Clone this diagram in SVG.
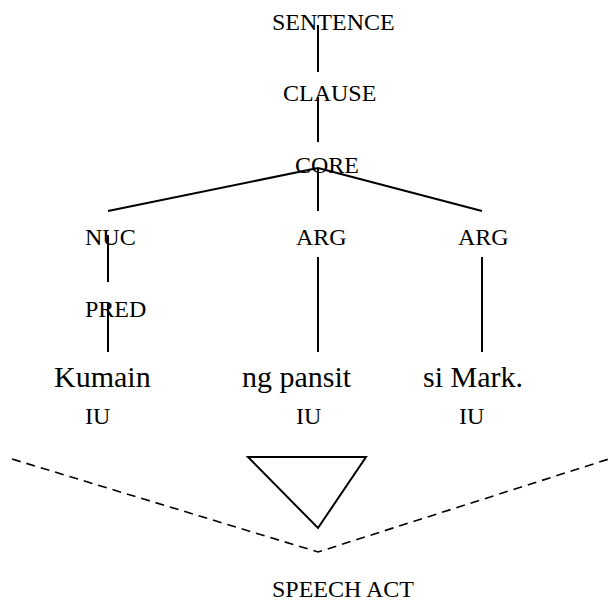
<svg xmlns="http://www.w3.org/2000/svg" width="614" height="603" viewBox="0 0 614 603">
  <style>
    text { font-family: 'Liberation Serif', serif; fill: #000; }
    .lbl { font-size: 24px; }
    .word { font-size: 30px; }
    .edge { stroke: #000; stroke-width: 2; fill: none; }
    .dash { stroke: #000; stroke-width: 1.6; fill: none; stroke-dasharray: 9 6; }
  </style>
  <rect width="614" height="603" fill="#fff"/>

  <!-- tree branches -->
  <g id="connectors">
    <line class="edge" x1="318" y1="25" x2="318" y2="72"/>
    <line class="edge" x1="318" y1="97" x2="318" y2="142"/>
    <line class="edge" x1="318" y1="168" x2="108" y2="211"/>
    <line class="edge" x1="318" y1="168" x2="318" y2="211"/>
    <line class="edge" x1="318" y1="168" x2="482" y2="211"/>
    <line class="edge" x1="108" y1="235" x2="108" y2="282"/>
    <line class="edge" x1="108" y1="303" x2="108" y2="352"/>
    <line class="edge" x1="318" y1="257" x2="318" y2="352"/>
    <line class="edge" x1="482" y1="257" x2="482" y2="352"/>
    <polyline class="dash" points="12,459 318,552 612,458"/>
  </g>

  <g id="sentence"><text class="lbl" x="272" y="30" font-family="Liberation Serif">SENTENCE</text></g>
  <g id="clause"><text class="lbl" x="283" y="101" font-family="Liberation Serif">CLAUSE</text></g>
  <g id="core"><text class="lbl" x="295" y="173" font-family="Liberation Serif">CORE</text></g>
  <g id="nuc"><text class="lbl" x="85" y="245" font-family="Liberation Serif">NUC</text></g>
  <g id="arg1"><text class="lbl" x="296" y="245" font-family="Liberation Serif">ARG</text></g>
  <g id="arg2"><text class="lbl" x="458" y="245" font-family="Liberation Serif">ARG</text></g>
  <g id="pred"><text class="lbl" x="85" y="317" font-family="Liberation Serif">PRED</text></g>

  <g id="kumain"><text class="word" x="54" y="387" font-family="Liberation Serif">Kumain</text></g>
  <g id="ng-pansit"><text class="word" x="242" y="387" font-family="Liberation Serif">ng pansit</text></g>
  <g id="si-mark"><text class="word" x="423" y="387" font-family="Liberation Serif">si Mark.</text></g>

  <g id="iu1"><text class="lbl" x="85" y="424" font-family="Liberation Serif">IU</text></g>
  <g id="iu2"><text class="lbl" x="296" y="424" font-family="Liberation Serif">IU</text></g>
  <g id="iu3"><text class="lbl" x="459" y="424" font-family="Liberation Serif">IU</text></g>

  <g id="triangle"><polygon class="edge" points="248,457 366,457 318,528"/></g>

  <g id="speech-act"><text class="lbl" x="272" y="597" font-family="Liberation Serif">SPEECH ACT</text></g>
</svg>
